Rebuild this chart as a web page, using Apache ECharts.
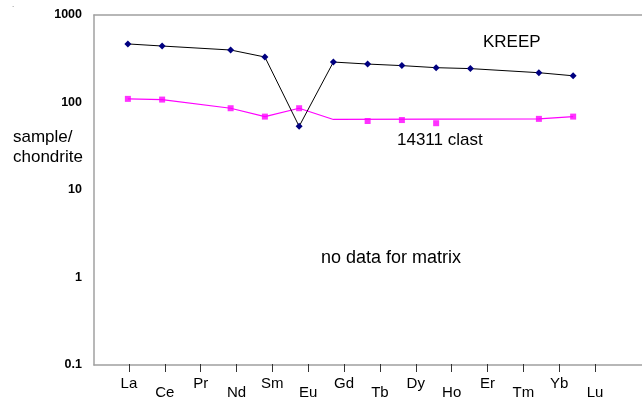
<!DOCTYPE html>
<html>
<head>
<meta charset="utf-8">
<script src="https://cdn.jsdelivr.net/npm/echarts@6/dist/echarts.min.js"></script>
<style>
html,body{margin:0;padding:0;background:#fff;}
#chart{width:642px;height:400px;}
</style>
</head>
<body>
<div id="chart"></div>
<script>
// Rare earth elements (x categories)
const elements = ['La','Ce','Pr','Nd','Sm','Eu','Gd','Tb','Dy','Ho','Er','Tm','Yb','Lu'];
// KREEP sample/chondrite values (null = no data)
const kreep = [467, 442, null, 398, 331, 53.4, 290, 275, 264, 250, 244, null, 219, 202];
// 14311 clast connecting line
const clastLine = [110, 108, null, 86, 69, 86, 64, null, null, null, null, null, 65, 69];
// 14311 clast measured points
const clastPoints = [110, 108, null, 86, 69, 86, null, 61.5, 63, 58, null, null, 65, 69];
// y-axis range (log)
const yMin = 0.1, yMax = 1000;

const FONT = 'Liberation Sans, Arial, sans-serif';
const AXIS_GREY = '#a0a0a0';
const toPairs = arr => arr.map((v, i) => v == null ? null : [i, v]).filter(p => p);

const chart = echarts.init(document.getElementById('chart'));
chart.setOption({
  animation: false,
  backgroundColor: '#fff',
  grid: [
    {left: 94, top: 15, right: -2, bottom: 35},
    {left: 111, top: 15, right: 29, bottom: 35}
  ],
  xAxis: [
    {type: 'value', gridIndex: 0, min: -0.989, max: 15.01, position: 'bottom',
     axisLine: {show: true, onZero: false, lineStyle: {color: AXIS_GREY, width: 1.5}},
     axisTick: {show: false}, axisLabel: {show: false}, splitLine: {show: false}},
    {type: 'category', gridIndex: 1, data: elements, boundaryGap: true,
     axisLine: {show: false},
     axisTick: {show: true, alignWithLabel: true, length: 8, lineStyle: {color: '#333', width: 1}},
     axisLabel: {interval: 0, margin: 12, color: '#000', fontFamily: FONT, fontSize: 15,
       formatter: (v, i) => (i % 2 ? '{lo|' + v + '}' : '{hi|' + v + '}'),
       rich: {hi: {fontSize: 15, fontFamily: FONT, color: '#000'},
              lo: {fontSize: 15, fontFamily: FONT, color: '#000', padding: [9, 0, 0, 0]}}}},
    {type: 'value', gridIndex: 0, min: -0.989, max: 15.01, position: 'top',
     axisLine: {show: true, onZero: false, lineStyle: {color: AXIS_GREY, width: 1.5}},
     axisTick: {show: false}, axisLabel: {show: false}, splitLine: {show: false}}
  ],
  yAxis: [
    {type: 'log', logBase: 10, gridIndex: 0, min: yMin, max: yMax,
     axisLine: {show: true, onZero: false, lineStyle: {color: AXIS_GREY, width: 1.5}},
     axisTick: {show: false}, splitLine: {show: false},
     axisLabel: {margin: 12, color: '#000', fontWeight: 'bold', fontSize: 12.5, fontFamily: FONT,
       formatter: v => String(v)}},
    {type: 'value', gridIndex: 1, show: false}
  ],
  series: [
    {name: 'KREEP', type: 'line', xAxisIndex: 0, yAxisIndex: 0, data: toPairs(kreep),
     symbol: 'diamond', symbolSize: 7, itemStyle: {color: '#000080'},
     lineStyle: {color: '#000', width: 1}, z: 3},
    {name: '14311 clast line', type: 'line', xAxisIndex: 0, yAxisIndex: 0, data: toPairs(clastLine),
     symbol: 'none', lineStyle: {color: '#ff00ff', width: 1.2}, z: 2},
    {name: '14311 clast', type: 'scatter', xAxisIndex: 0, yAxisIndex: 0, data: toPairs(clastPoints),
     symbol: 'rect', symbolSize: 6, itemStyle: {color: '#ff00ff'}, z: 4}
  ],
  graphic: [
    {type: 'text', left: 12, top: 1, style: {text: '.', fill: '#666', font: '8px ' + FONT}},
    {type: 'text', left: 13, top: 127, style: {text: 'sample/\nchondrite', font: '17px ' + FONT, fill: '#000', lineHeight: 20}},
    {type: 'text', left: 483, top: 34, style: {text: 'KREEP', font: '17px ' + FONT, fill: '#000'}},
    {type: 'text', left: 397, top: 132, style: {text: '14311 clast', font: '17px ' + FONT, fill: '#000'}},
    {type: 'text', left: 321, top: 249, style: {text: 'no data for matrix', font: '18px ' + FONT, fill: '#000'}}
  ]
});
</script>
</body>
</html>
